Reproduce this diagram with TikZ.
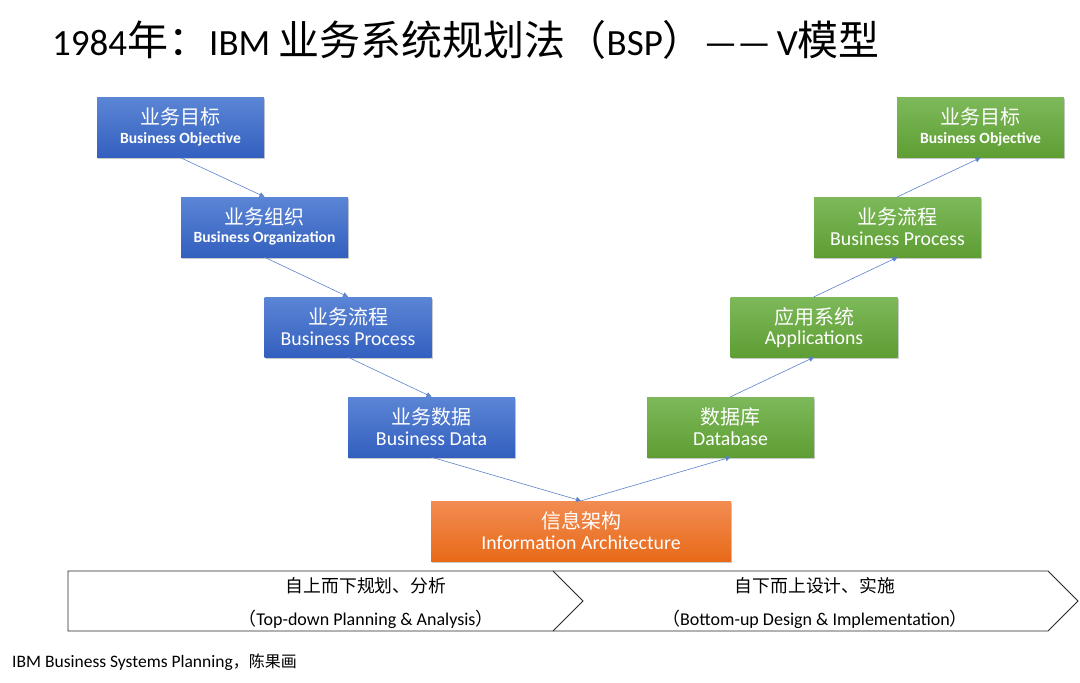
\documentclass[tikz,border=0pt]{standalone}
\usepackage{fontspec}
\setmainfont{Carlito}
\newfontfamily\cjk{Noto Sans CJK SC}
\usetikzlibrary{arrows.meta,shadows}
\definecolor{bluetop}{HTML}{5B85D5}
\definecolor{bluebot}{HTML}{3360BF}
\definecolor{greentop}{HTML}{7DB95A}
\definecolor{greenbot}{HTML}{5E9E33}
\definecolor{orangetop}{HTML}{F28C52}
\definecolor{orangebot}{HTML}{E86A18}
\definecolor{arrowblue}{HTML}{5A82CC}
\newcommand\fs[1]{\fontsize{#1}{#1}\selectfont}
\tikzset{
  boxbase/.style={minimum width=167pt, minimum height=60pt, inner sep=0pt,
    drop shadow={shadow xshift=1pt, shadow yshift=-1.5pt, opacity=0.35, fill=black!60}},
  bluebox/.style={boxbase, top color=bluetop, bottom color=bluebot},
  greenbox/.style={boxbase, top color=greentop, bottom color=greenbot},
  orangebox/.style={boxbase, minimum width=300pt, top color=orangetop, bottom color=orangebot},
  cntext/.style={text=white, inner sep=0pt, font=\cjk\fs{20}},
  entext/.style={text=white, inner sep=0pt, font=\fs{19.8}},
  enbold/.style={text=white, inner sep=0pt, font=\bfseries\fs{15.6}},
  conn/.style={draw=arrowblue, line width=0.6pt, -{Triangle[length=5pt,width=5pt]}},
  band/.style={draw=black!85, line width=0.9pt},
  bandcn/.style={inner sep=0pt, font=\cjk\fs{17.8}},
  banden/.style={inner sep=0pt, font=\fs{18}},
}
\newcommand\mkbox[6]{%
  \node[#2] (#1) at (#3) {};
  \node[cntext] (#1c) at ([yshift=-20pt]#1.north) {#4};
  \node[#6] (#1e) at ([yshift=-42pt]#1.north) {#5};
}
\begin{document}
\begin{tikzpicture}[x=1pt,y=1pt]
\useasboundingbox (0,0) rectangle (1080,-683);
% title
\node[anchor=west, inner sep=0pt] (title) at (52,-40)
 {\fs{37}1984{\cjk\fs{41}年：}IBM {\cjk\fs{41}业务系统规划法（}BSP{\cjk\fs{41}）}——\hspace{6pt}V{\cjk\fs{41}模型}};
% left boxes
\mkbox{b1}{bluebox}{180.5,-127.5}{业务目标}{Business Objective}{enbold}
\mkbox{b2}{bluebox}{264.5,-227}{业务组织}{Business Organization}{enbold}
\mkbox{b3}{bluebox}{348,-327}{业务流程}{Business Process}{entext}
\mkbox{b4}{bluebox}{431.5,-427}{业务数据}{Business Data}{entext}
% center
\mkbox{ia}{orangebox}{581,-531}{信息架构}{Information Architecture}{entext}
% right boxes
\mkbox{g1}{greenbox}{730.5,-427}{数据库}{Database}{entext}
\mkbox{g2}{greenbox}{814,-327}{应用系统}{Applications}{entext}
\mkbox{g3}{greenbox}{897.5,-227}{业务流程}{Business Process}{entext}
\mkbox{g4}{greenbox}{980.5,-127.5}{业务目标}{Business Objective}{enbold}
% connectors
\draw[conn] (b1.south) -- (b2.north);
\draw[conn] (b2.south) -- (b3.north);
\draw[conn] (b3.south) -- (b4.north);
\draw[conn] (b4.south) -- (ia.north);
\draw[conn] (ia.north) -- (g1.south);
\draw[conn] (g1.north) -- (g2.south);
\draw[conn] (g2.north) -- (g3.south);
\draw[conn] (g3.north) -- (g4.south);
% band
\coordinate (L1) at (68,-571);
\coordinate (L2) at (553,-571);
\coordinate (T1) at (583,-601);
\coordinate (L3) at (553,-631);
\coordinate (L4) at (68,-631);
\coordinate (R2) at (1048,-571);
\coordinate (T2) at (1078,-601);
\coordinate (R3) at (1048,-631);
\draw[band, line join=miter] (L1) -- (L2) -- (T1) -- (L3) -- (L4) -- cycle;
\draw[band, line join=miter] (L2) -- (R2) -- (T2) -- (R3) -- (L3);
\node[bandcn] (tdcn) at (366,-586) {自上而下规划、分析};
\node[banden] (tden) at (366,-619) {{\cjk （}Top-down Planning \& Analysis{\cjk ）}};
\node[bandcn] (bucn) at (815,-586) {自下而上设计、实施};
\node[banden] (buen) at (815,-619) {{\cjk （}Bottom-up Design \& Implementation{\cjk ）}};
% footer
\node[anchor=west, inner sep=0pt, font=\fs{17.5}] (foot) at (12,-662)
 {IBM Business Systems Planning{\cjk\fs{16}，陈果画}};
\end{tikzpicture}
\end{document}
